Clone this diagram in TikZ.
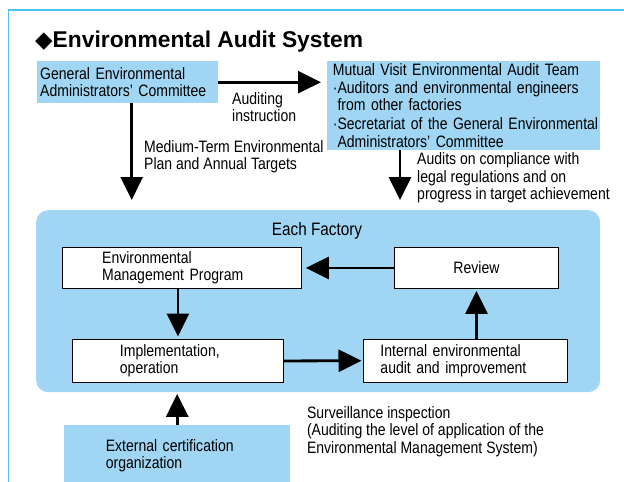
\documentclass[tikz,border=0pt]{standalone}
\usepackage{fontspec}
\setmainfont{Liberation Sans}[FakeStretch=0.85]
\newfontfamily\titlefont{Liberation Sans}
\newfontfamily\symbolfont{DejaVu Sans}
\usetikzlibrary{arrows.meta,calc}
\definecolor{panelblue}{RGB}{160,214,243}
\definecolor{framecyan}{RGB}{77,195,238}

\begin{document}
\begin{tikzpicture}[x=1pt,y=-1pt,
  txt/.style={font=\fontsize{16.5}{17.5}\selectfont, inner ysep=0pt, inner xsep=0pt},
  bluebox/.style={txt, fill=panelblue, anchor=north west, align=left},
  whitebox/.style={txt, fill=white, draw=black, line width=0.9pt, anchor=north west, align=left},
  note/.style={txt, anchor=base west, align=left},
  bigarrow/.style={line width=2.8pt, -{Triangle[length=23pt,width=22pt]}},
]
\useasboundingbox (0,0) rectangle (624,482);

% page frame
\draw[framecyan, line width=1.7pt] (8.5,500) -- (8.5,10) -- (640,10);

% heading
\node[note, font=\fontsize{22.8}{24}\selectfont] (title) at (35,47.5)
  {{\symbolfont ◆}\titlefont\bfseries Environmental Audit System};

% committee and audit team
\node[bluebox, inner xsep=3pt, text width=175pt, minimum height=42pt] (geac) at (37,61)
  {General Environmental\\Administrators’ Committee};
\node[bluebox, inner xsep=5.7pt, text width=261.6pt, minimum height=89pt] (mutual) at (327,61)
  {Mutual Visit Environmental Audit Team\\
   ·Auditors and environmental engineers\\
   \phantom{·}from other factories\\[1.5pt]
   \mbox{·Secretariat of the General Environmental}\\
   \phantom{·}Administrators’ Committee};

% factory panel
\node[anchor=north west, fill=panelblue, rounded corners=12pt, minimum width=564pt,
      minimum height=182pt, inner sep=0pt] (factory) at (36,210) {};
\node[txt, anchor=base, font=\fontsize{18}{19}\selectfont] (factorytitle) at (317,235) {Each Factory};

% PDCA cycle boxes
\node[whitebox, inner xsep=39.7pt, text width=159.6pt, minimum height=41pt] (emp) at (62,247)
  {Environmental\\Management Program};
\node[whitebox, align=center, minimum width=164pt, minimum height=41pt] (review) at (394,247)
  {Review};
\node[whitebox, inner xsep=47.5pt, text width=116pt, minimum height=43pt] (impl) at (72,339)
  {Implementation,\\operation};
\node[whitebox, inner xsep=17pt, text width=169.5pt, minimum height=42.5pt] (internal) at (363,339)
  {Internal environmental\\audit and improvement};

% certification body
\node[bluebox, inner xsep=41.6pt, text width=142.8pt, minimum height=61pt] (external) at (64,425)
  {External certification\\organization};

% arrow labels (placed by the baseline of their last line)
\node[note] (auditing) at (232,121.7) {Auditing\\instruction};
\node[note] (plan) at (144,169.5) {Medium-Term Environmental\\Plan and Annual Targets};
\node[note] (audits) at (417,199.5) {Audits on compliance with\\legal regulations and on\\progress in target achievement};
\node[note] (surveillance) at (306.8,453.3) {Surveillance inspection\\(Auditing the level of application of the\\Environmental Management System)};

% connectors
\coordinate (geacfoot) at ([xshift=4pt]geac.south);
\coordinate (mutualfoot) at ([xshift=73pt]mutual.south west);
\draw[bigarrow, shorten >=6pt] (geac.east) -- (geac.east -| mutual.west);
\draw[bigarrow, shorten >=10pt] (geacfoot) -- (geacfoot |- factory.north);
\draw[bigarrow, shorten >=10pt] (mutualfoot) -- (mutualfoot |- factory.north);
\draw[bigarrow, shorten >=4pt] (review.west) -- (emp.east);
\draw[bigarrow, shorten >=2.5pt] (emp.south -| impl.north) -- (impl.north);
\draw[bigarrow, shorten >=1.5pt] (impl.east) -- (internal.west);
\draw[bigarrow, shorten >=2pt] (internal.north -| review.south) -- (review.south);
\draw[bigarrow, shorten >=1.5pt] (external.north) -- (external.north |- factory.south);
\end{tikzpicture}
\end{document}
